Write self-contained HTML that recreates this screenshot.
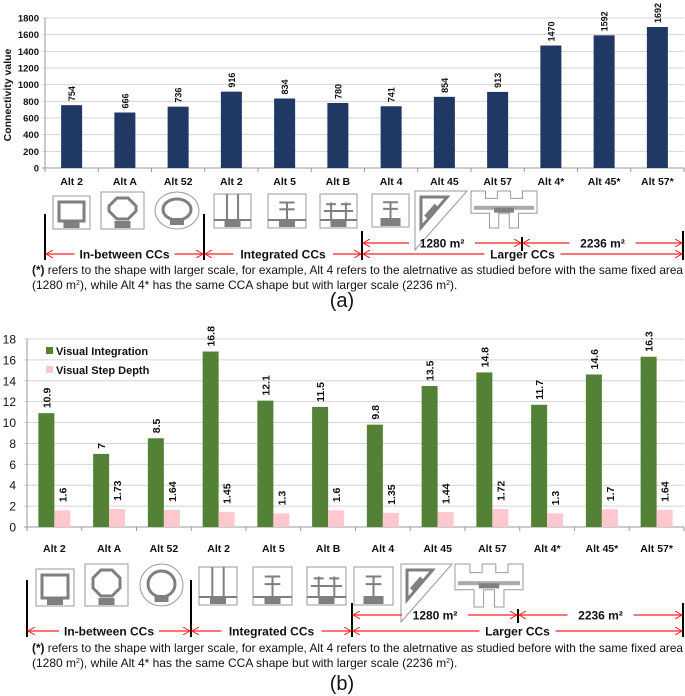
<!DOCTYPE html>
<html><head><meta charset="utf-8"><style>
body{margin:0;background:#fff;width:685px;height:696px;overflow:hidden}
svg{display:block;font-family:"Liberation Sans",sans-serif}
</style></head><body>
<svg id="s" width="685" height="696" viewBox="0 0 685 696" xmlns="http://www.w3.org/2000/svg">
<defs>
<marker id="ar" markerWidth="8" markerHeight="8" refX="7" refY="4" orient="auto" markerUnits="userSpaceOnUse"><path d="M0,0 L7,4 L0,8" fill="none" stroke="#f22" stroke-width="1"/></marker>
</defs>
</svg>
<script>
const categories=["Alt 2","Alt A","Alt 52","Alt 2","Alt 5","Alt B","Alt 4","Alt 45","Alt 57","Alt 4*","Alt 45*","Alt 57*"];
const connectivity=[754,666,736,916,834,780,741,854,913,1470,1592,1692];
const connTicks=[0,200,400,600,800,1000,1200,1400,1600,1800];
const visualIntegration=[10.9,7,8.5,16.8,12.1,11.5,9.8,13.5,14.8,11.7,14.6,16.3];
const visualStepDepth=[1.6,1.73,1.64,1.45,1.3,1.6,1.35,1.44,1.72,1.3,1.7,1.64];
const visTicks=[0,2,4,6,8,10,12,14,16,18];

const NS="http://www.w3.org/2000/svg";
const svg=document.getElementById('s');
function el(tag,attrs,parent,text){const e=document.createElementNS(NS,tag);for(const k in attrs)e.setAttribute(k,attrs[k]);if(text!==undefined)e.textContent=text;(parent||svg).appendChild(e);return e;}

// ---------- Chart A ----------
const A={x0:45,x1:684,y0:168,y1:18,max:1800};
const ax=i=>A.x0+(A.x1-A.x0)/12*(i+0.5);
const ay=v=>A.y0-(v/A.max)*(A.y0-A.y1);
const gA=el('g',{},svg);

connTicks.forEach(t=>{
  const l=el('line',{x1:A.x0-3,x2:A.x1,y1:ay(t),y2:ay(t),stroke:t===0?'#999':'#d4d4d4','stroke-width':1},gA);
  
  const tx=el('text',{x:A.x0-6,y:ay(t)+3.5,'font-size':9.5,'font-weight':'bold','text-anchor':'end',fill:'#111'},gA,t);
  
});
el('line',{x1:A.x0,x2:A.x0,y1:A.y1,y2:A.y0+4,stroke:'#999'},gA);
for(let i=0;i<=12;i++)el('line',{x1:A.x0+(A.x1-A.x0)/12*i,x2:A.x0+(A.x1-A.x0)/12*i,y1:A.y0,y2:A.y0+4,stroke:'#999'},gA);
const yt=el('text',{x:0,y:0,transform:`translate(11,${(A.y0+A.y1)/2+2}) rotate(-90)`,'font-size':10.5,'font-weight':'bold','text-anchor':'middle',fill:'#111'},gA,'Connectivity value');

connectivity.forEach((v,i)=>{
  const b=el('rect',{x:ax(i)-10.5,y:ay(v),width:21,height:A.y0-ay(v),fill:'#1f3864'},gA);
  
  const t=el('text',{x:0,y:0,transform:`translate(${ax(i)+3.5},${ay(v)-4}) rotate(-90)`,'font-size':9,'font-weight':'bold',fill:'#111'},gA,v);
  
  const c=el('text',{x:ax(i),y:185,'font-size':10.5,'font-weight':'bold','text-anchor':'middle',fill:'#111'},gA,categories[i]);
  
});

// ---------- Chart B ----------
const B={x0:27,x1:684,y0:527,y1:339,max:18};
const bx=i=>B.x0+(B.x1-B.x0)/12*(i+0.5);
const by=v=>B.y0-(v/B.max)*(B.y0-B.y1);
const gB=el('g',{},svg);

visTicks.forEach(t=>{
  const l=el('line',{x1:B.x0-3,x2:B.x1,y1:by(t),y2:by(t),stroke:t===0?'#999':'#d4d4d4'},gB);
  
  const tx=el('text',{x:B.x0-11,y:by(t)+4.5,'font-size':12,'text-anchor':'end',fill:'#111'},gB,t);
  
});
el('line',{x1:B.x0,x2:B.x0,y1:B.y1,y2:B.y0+4,stroke:'#999'},gB);
for(let i=0;i<=12;i++)el('line',{x1:B.x0+(B.x1-B.x0)/12*i,x2:B.x0+(B.x1-B.x0)/12*i,y1:B.y0,y2:B.y0+4,stroke:'#999'},gB);
visualIntegration.forEach((v,i)=>{
  const b=el('rect',{x:bx(i)-16,y:by(v),width:16,height:B.y0-by(v),fill:'#538135'},gB);
  
  const t=el('text',{x:0,y:0,transform:`translate(${bx(i)-4},${by(v)-5}) rotate(-90)`,'font-size':10.5,'font-weight':'bold',fill:'#111'},gB,v);
  
});
visualStepDepth.forEach((v,i)=>{
  const b=el('rect',{x:bx(i),y:by(v),width:16,height:B.y0-by(v),fill:'#ffc7ce'},gB);
  
  const t=el('text',{x:0,y:0,transform:`translate(${bx(i)+12},${by(v)-8}) rotate(-90)`,'font-size':10.5,'font-weight':'bold',fill:'#111'},gB,v);
  
});
categories.forEach((c,i)=>{
  const t=el('text',{x:bx(i),y:552,'font-size':10.5,'font-weight':'bold','text-anchor':'middle',fill:'#111'},gB,c);
  
});
const lg=el('g',{},gB);
el('rect',{x:46,y:347,width:7,height:7,fill:'#538135'},lg);
let le=el('text',{x:56,y:355,'font-size':11,'font-weight':'bold',fill:'#111'},lg,'Visual Integration');

el('rect',{x:46,y:366,width:7,height:7,fill:'#ffc7ce'},lg);
le=el('text',{x:56,y:374,'font-size':11,'font-weight':'bold',fill:'#111'},lg,'Visual Step Depth');


// ---------- Icons ----------
function icon(k,x,y,w,h,g){
  const G='#7f7f7f';
  const gr=el('g',{},g);
  if(k===3){el('ellipse',{cx:x+w/2,cy:y+h/2,rx:w/2,ry:h/2,fill:'#fff',stroke:'#999'},gr);
    el('ellipse',{cx:x+w/2,cy:y+h/2-1,rx:w/2-8,ry:h/2-8,fill:'none',stroke:G,'stroke-width':3},gr);
    el('rect',{x:x+w/2-7,y:y+h-11,width:14,height:7,fill:G},gr);return;}
  if(k===8){el('path',{d:`M${x} ${y}H${x+w}L${x} ${y+h}Z`,fill:'#fff',stroke:'#999'},gr);
    el('path',{d:`M${x+6} ${y+6}H${x+w*0.62}L${x+6} ${y+h*0.62}Z`,fill:'none',stroke:G,'stroke-width':3},gr);
    el('line',{x1:x+w*0.22,y1:y+h*0.45,x2:x+w*0.42,y2:y+h*0.25,stroke:G,'stroke-width':6},gr);return;}
  if(k===9){el('path',{d:`M${x} ${y}h${w*0.22}v${h*0.2}h${w*0.18}v-${h*0.2}h${w*0.2}v${h*0.2}h${w*0.18}v-${h*0.2}h${w*0.22}v${h*0.6}h-${w*0.28}v${h*0.4}h-${w*0.14}v-${h*0.4}h-${w*0.16}v${h*0.4}h-${w*0.14}v-${h*0.4}h-${w*0.28}Z`,fill:'#fff',stroke:'#999'},gr);
    el('rect',{x:x+3,y:y+h*0.4,width:w-6,height:4,fill:'#aaa'},gr);
    el('rect',{x:x+w*0.35,y:y+h*0.45,width:w*0.3,height:5,fill:G},gr);return;}
  el('rect',{x:x,y:y,width:w,height:h,fill:'#fff',stroke:'#999'},gr);
  if(k===1)el('rect',{x:x+6,y:y+6,width:w-12,height:h-14,fill:'none',stroke:G,'stroke-width':3},gr);
  if(k===2){const a=x+8,b=x+w-8,c=y+6,d=y+h-10,o=8;el('path',{d:`M${a+o} ${c}H${b-o}L${b} ${c+o}V${d-o}L${b-o} ${d}H${a+o}L${a} ${d-o}V${c+o}Z`,fill:'none',stroke:G,'stroke-width':3},gr);}
  if(k===4){el('line',{x1:x+w*0.35,x2:x+w*0.35,y1:y,y2:y+h-8,stroke:G,'stroke-width':2},gr);el('line',{x1:x+w*0.65,x2:x+w*0.65,y1:y,y2:y+h-8,stroke:G,'stroke-width':2},gr);el('line',{x1:x,x2:x+w,y1:y+h-8,y2:y+h-8,stroke:G,'stroke-width':2},gr);}
  if(k===5||k===7){el('line',{x1:x+w*0.3,x2:x+w*0.7,y1:y+h*0.25,y2:y+h*0.25,stroke:G,'stroke-width':2},gr);el('line',{x1:x+w*0.3,x2:x+w*0.7,y1:y+h*0.45,y2:y+h*0.45,stroke:G,'stroke-width':2},gr);el('line',{x1:x+w/2,x2:x+w/2,y1:y+h*0.25,y2:y+h-8,stroke:G,'stroke-width':2},gr);if(k===5)el('line',{x1:x,x2:x+w,y1:y+h-8,y2:y+h-8,stroke:G,'stroke-width':2},gr);}
  if(k===6){[0.3,0.7].forEach(f=>{el('line',{x1:x+w*f,x2:x+w*f,y1:y+h*0.25,y2:y+h-8,stroke:G,'stroke-width':2},gr);el('line',{x1:x+w*f-5,x2:x+w*f+5,y1:y+h*0.3,y2:y+h*0.3,stroke:G,'stroke-width':2},gr);});el('line',{x1:x+4,x2:x+w-4,y1:y+h*0.5,y2:y+h*0.5,stroke:G,'stroke-width':2},gr);el('line',{x1:x,x2:x+w,y1:y+h-8,y2:y+h-8,stroke:G,'stroke-width':2},gr);}
  el('rect',{x:x+w/2-(k===7?10:8),y:y+h-(k===7?9:8),width:k===7?20:16,height:k===7?8:7,fill:G},gr);
}
const iconsA=[[1,53,196,37,33],[2,101,192,43,37],[3,155,192,44,37],[4,214,194,37,34],[5,268,194,38,34],[6,320,194,37,34],[7,372,194,37,33],[8,415,191,52,59],[9,471,191,66,37]];
const iconsB=[[1,36,569,38,37],[2,85,564,43,42],[3,140,564,43,42],[4,199,567,38,38],[5,253,567,39,38],[6,307,567,39,38],[7,354,567,39,38],[8,401,564,51,58],[9,455,564,68,43]];
iconsA.forEach(a=>icon(...a,gA));
iconsB.forEach(a=>icon(...a,gB));

// ---------- Brackets ----------
function brackets(g,v,ym,y1,y2,y3,fy){
  const [a,b,c,d]=v;
  [[a,y2],[b,y2],[c,y1-12],[d,y1-12]].forEach(([x,yy])=>el('line',{x1:x,x2:x,y1:yy,y2:y3+6,stroke:'#000','stroke-width':2},g));
  el('line',{x1:ym,x2:ym,y1:y1-6,y2:y1+8,stroke:'#000','stroke-width':2},g);
  function arrow(x1,x2,yy,label,lw){
    const mid=(x1+x2)/2;
    el('line',{x1:mid-lw/2,x2:x1+1,y1:yy,y2:yy,stroke:'#f22','stroke-width':1.3,'marker-end':'url(#ar)'},g);
    el('line',{x1:mid+lw/2,x2:x2-1,y1:yy,y2:yy,stroke:'#f22','stroke-width':1.3,'marker-end':'url(#ar)'},g);
    const t=el('text',{x:mid,y:yy+4.5,'font-size':12,'font-weight':'bold','text-anchor':'middle',fill:'#111'},g,label);
    
  }
  arrow(c,ym,y1,'1280 m²',66);arrow(ym,d,y1,'2236 m²',66);
  arrow(a,b,y3,'In-between CCs',100);arrow(b,c,y3,'Integrated CCs',100);arrow(c,d,y3,'Larger CCs',76);
  const f1=el('text',{x:32,y:fy,'font-size':12,fill:'#111',textLength:651,lengthAdjust:'spacingAndGlyphs'},g);
  
  f1.innerHTML='<tspan font-weight="bold">(*)</tspan> refers to the shape with larger scale, for example, Alt 4 refers to the aletrnative as studied before with the same fixed area';
  const f2=el('text',{x:32,y:fy+15,'font-size':12,fill:'#111'},g);
  
  f2.innerHTML='(1280 m<tspan font-size="7" dy="-4">2</tspan><tspan dy="4">), while Alt 4* has the same CCA shape but with larger scale (2236 m</tspan><tspan font-size="7" dy="-4">2</tspan><tspan dy="4">).</tspan>';
}
brackets(gA,[45,204,362,683],522,243,214,254,274);
brackets(gB,[27,191,352,683],518,615,580,631,652);
let p=el('text',{x:342,y:307,'font-size':20,'text-anchor':'middle',fill:'#111'},svg,'(a)');

p=el('text',{x:342,y:690,'font-size':20,'text-anchor':'middle',fill:'#111'},svg,'(b)');

</script>
</body></html>
